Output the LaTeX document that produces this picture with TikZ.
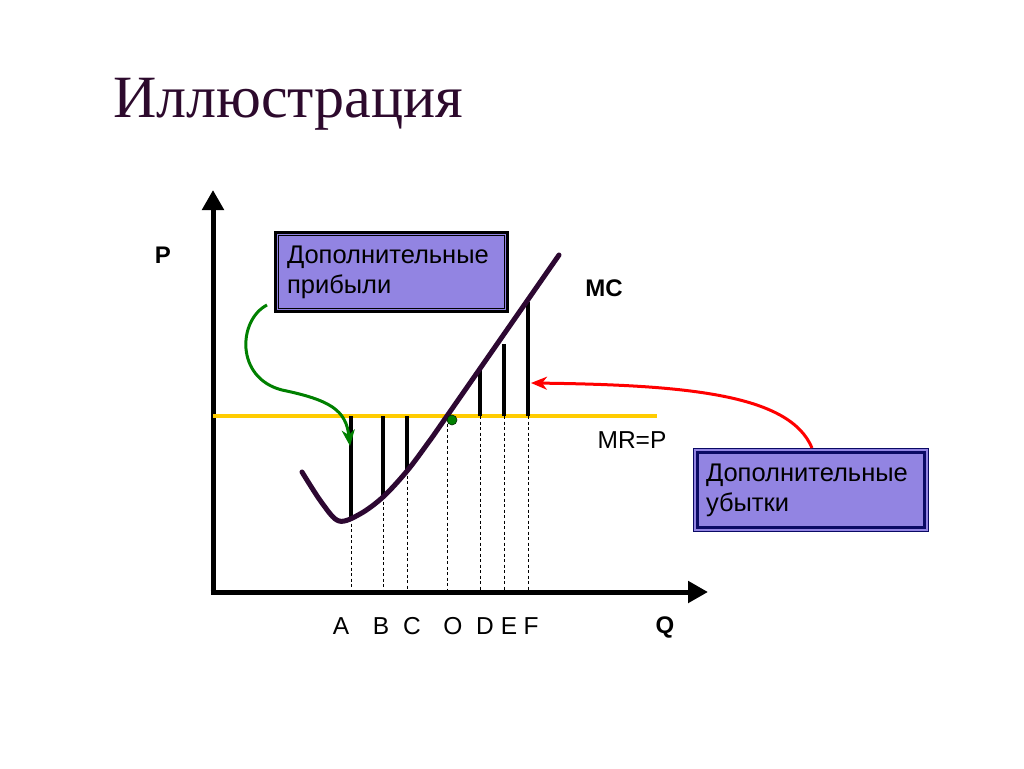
\documentclass[tikz,border=0pt]{standalone}
\usepackage{fontspec}
\setmainfont{Liberation Serif}
\setsansfont{Liberation Sans}
\usetikzlibrary{arrows.meta,calc}
\definecolor{titlecol}{RGB}{45,10,45}
\definecolor{mccol}{RGB}{45,8,50}
\definecolor{boxfill}{RGB}{146,132,226}
\definecolor{navy}{RGB}{10,10,100}
\definecolor{mrcol}{RGB}{255,204,0}
\definecolor{grn}{RGB}{0,128,0}
\tikzset{
  axis/.style={line width=5pt,-{Triangle[length=20pt,width=21pt]}},
  bar/.style={line width=4pt,black},
  guide/.style={line width=0.8pt,black,dash pattern=on 3pt off 2.5pt},
  mcline/.style={line width=5pt,mccol,line cap=round},
  lbl/.style={font=\sffamily\fontsize{24.5}{28}\selectfont,inner sep=0pt},
  blbl/.style={font=\sffamily\bfseries\fontsize{24}{28}\selectfont,inner sep=0pt},
  infobox/.style={fill=boxfill,inner sep=0pt,align=left,text width=209pt,
     font=\sffamily\fontsize{25.5}{30}\selectfont},
}
\begin{document}
\begin{tikzpicture}[x=1pt,y=-1pt]
\path[use as bounding box,fill=white] (0,0) rectangle (1024,768);

% title
\node[anchor=base west,inner sep=0pt,text=titlecol,font=\fontsize{60}{66}\selectfont] (title) at (113,117) {Иллюстрация};

% axes
\coordinate (orig) at (213,592);
\coordinate (ytip) at (213,190);
\coordinate (xtip) at (708,592);
\draw[axis] ([yshift=2.5pt]orig) -- (ytip);
\draw[axis] ([xshift=-2.5pt]orig) -- (xtip);

% MR = P line
\coordinate (mrl) at (213,416);
\coordinate (mrr) at (657,416);
\draw[mrcol,line width=3.5pt] (mrl) -- (mrr);

% bar coordinates
\foreach \n/\x/\yb in {A/351/518,B/383/496,C/407/470,O/447/418}{
  \coordinate (\n c) at (\x,\yb);
  \coordinate (\n m) at (\x,416);
  \coordinate (\n a) at (\x,590);
}
\foreach \n/\x/\yt in {D/480/368,E/504/344,F/528/302}{
  \coordinate (\n c) at (\x,\yt);
  \coordinate (\n m) at (\x,416);
  \coordinate (\n a) at (\x,590);
}
% dashed guides
\foreach \n in {A,B,C,O}{ \draw[guide] (\n c) -- (\n a); }
\foreach \n in {D,E,F}{ \draw[guide] (\n m) -- (\n a); }
% bars
\foreach \n in {A,B,C,D,E,F}{ \draw[bar] (\n m) -- (\n c); }

% MC curve
\draw[mcline] plot[smooth,tension=0.55] coordinates {(302,472) (322,503) (339,521) (360,514) (383,497) (407,471) (428,443) (447,416) (559,255)};

% green dot
\node[circle,fill=grn,draw=black!70!grn,line width=0.6pt,minimum size=10pt,inner sep=0pt] (dot) at (452,420) {};

% labels
\node[blbl] (P) at (163,255) {P};
\node[blbl] (Q) at (665,627) {Q};
\node[blbl] (MC) at (604,288) {MC};
\node[lbl] (MR) at (632,440) {MR=P};
\foreach \n/\x in {A/341,B/381,C/412,O/453,D/485,E/509,F/531}{
  \node[lbl,anchor=base] (L\n) at (\x,634) {\n};
}

% box 1
\node[infobox,draw=black,line width=3pt,minimum width=232pt,minimum height=79pt] (prib) at (391.5,272) {Дополнительные\\прибыли};
\draw[black,line width=1pt] ($(prib.north west)+(4.5,4.5)$) rectangle ($(prib.south east)+(-4.5,-4.5)$);

% box 2
\node[infobox,text width=210pt,draw=navy,line width=1.2pt,minimum width=234.8pt,minimum height=82.8pt] (ubyt) at (811,490) {Дополнительные\\убытки};
\draw[navy,line width=3.5pt] ($(ubyt.north west)+(4.5,4.5)$) rectangle ($(ubyt.south east)+(-4.5,-4.5)$);

% green arrow
\coordinate (gstart) at ($(prib.south west)+(-7,-8)$);
\coordinate (gtip) at (350,446);
\draw[grn,line width=3pt,-{Stealth[length=16pt,width=13pt,inset=5pt]}]
  (gstart) .. controls (238,320) and (235,378) .. (282,390)
           .. controls (330,400) and (346,410) .. (gtip);

% red arrow
\coordinate (rtip) at (531,383);
\draw[red,line width=3pt,-{Stealth[length=16pt,width=13pt,inset=5pt]}]
  ([xshift=1pt]ubyt.north) .. controls (790,395) and (690,385) .. (rtip);
\end{tikzpicture}
\end{document}
